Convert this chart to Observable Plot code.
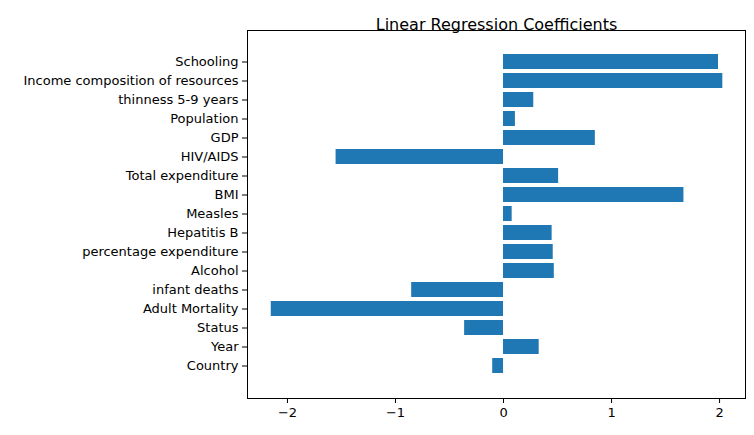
<!DOCTYPE html>
<html>
<head>
<meta charset="utf-8">
<script src="https://cdn.jsdelivr.net/npm/d3@7"></script>
<script src="https://cdn.jsdelivr.net/npm/@observablehq/plot@0.6"></script>
<style>
  body { margin: 0; background: #fff; }
</style>
</head>
<body>
<div id="chart"></div>
<script>
// feature names, bottom to top as in the picture
const features = [
  "Country", "Year", "Status", "Adult Mortality", "infant deaths", "Alcohol",
  "percentage expenditure", "Hepatitis B", "Measles", "BMI", "Total expenditure",
  "HIV/AIDS", "GDP", "Population", "thinness 5-9 years",
  "Income composition of resources", "Schooling"
];
const coefs = [
  -0.10, 0.33, -0.36, -2.15, -0.85, 0.47,
  0.46, 0.45, 0.08, 1.67, 0.51,
  -1.55, 0.85, 0.11, 0.28,
  2.03, 1.99
];
const xTicks = [-2, -1, 0, 1, 2];

const data = features.map((f, i) => ({feature: f, coef: coefs[i]}));

const chart = Plot.plot({
  width: 754,
  height: 435,
  marginLeft: 247,
  marginRight: 9,
  marginTop: 30,
  marginBottom: 37,
  style: {fontFamily: "DejaVu Sans", fontSize: "13px", color: "black", background: "white"},
  x: {domain: [-2.37, 2.24], ticks: xTicks, tickFormat: d => d < 0 ? "\u2212" + Math.abs(d) : d, label: null, tickSize: 5},
  y: {domain: features.slice().reverse(), label: null, paddingInner: 0.2, paddingOuter: 0.84, tickSize: 5},
  marks: [
    Plot.barX(data, {x: "coef", y: "feature", fill: "#1f77b4"}),
    Plot.frame({stroke: "black", strokeWidth: 1}),
    Plot.text(["Linear Regression Coefficients"], {frameAnchor: "top", dy: -12, fontSize: 16})
  ]
});

d3.select("#chart").append(() => chart);
</script>
</body>
</html>
